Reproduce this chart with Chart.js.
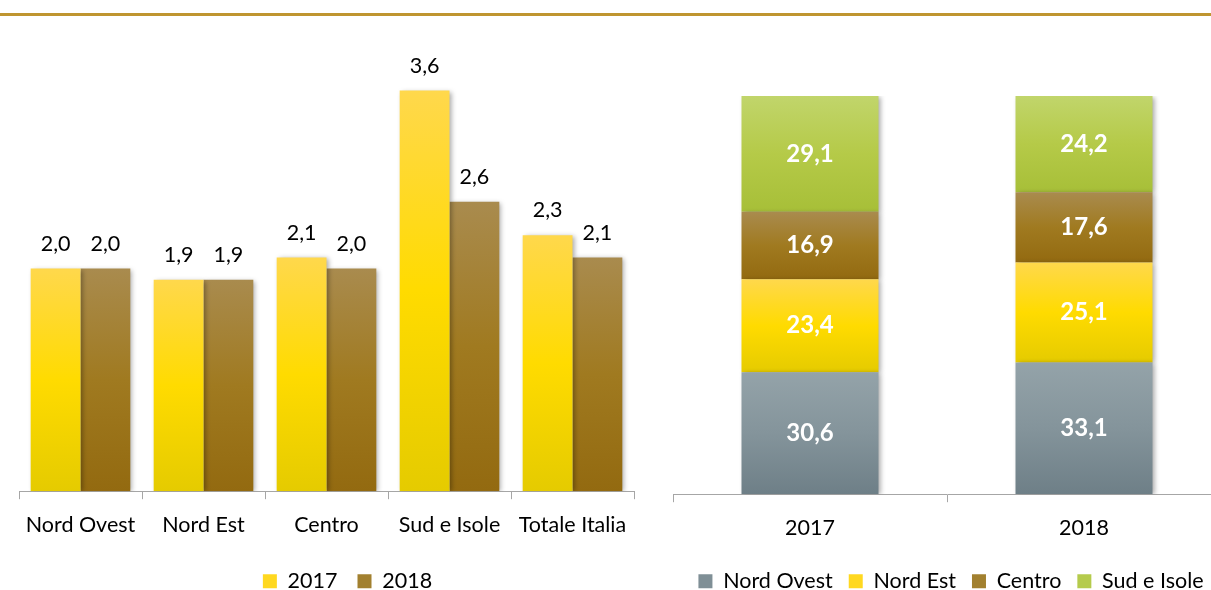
<!DOCTYPE html>
<html>
<head>
<meta charset="utf-8">
<script src="https://cdn.jsdelivr.net/npm/chart.js@4/dist/chart.umd.min.js"></script>
<style>
  html, body { margin: 0; padding: 0; background: #fff; overflow: hidden; }
  body { width: 1211px; height: 590px; position: relative; }
  #topLine { position: absolute; left: 0; top: 13px; width: 1211px; height: 3px; background: #bf9530; }
  #leftBox { position: absolute; left: 0; top: 0; width: 650px; height: 590px; }
  #rightBox { position: absolute; left: 660px; top: 0; width: 620px; height: 590px; }
</style>
</head>
<body>
<div id="topLine"></div>
<div id="leftBox"><canvas id="regionChart"></canvas></div>
<div id="rightBox"><canvas id="shareChart"></canvas></div>

<script>
const regions = ["Nord Ovest", "Nord Est", "Centro", "Sud e Isole", "Totale Italia"];
const values2017 = [2.0, 1.9, 2.1, 3.6, 2.3];
const values2018 = [2.0, 1.9, 2.0, 2.6, 2.1];

const years = ["2017", "2018"];
const shareNordOvest = [30.6, 33.1];
const shareNordEst = [23.4, 25.1];
const shareCentro = [16.9, 17.6];
const shareSud = [29.1, 24.2];

// gradient stops: top, middle, bottom
const yellow = ["#ffd84c", "#ffdb00", "#e5cb00"];
const brown = ["#a98b4e", "#a07a20", "#936a10"];
const grey = ["#94a3a9", "#84949b", "#6e7f87"];
const green = ["#c1d56b", "#b5ca48", "#a7bf38"];

const FONT = "Lato";
const TEXT_SIZE = 21.5;

function fmt(v) {
  return v.toFixed(1).replace(".", ",");
}

// vertical gradient over a single bar (or stack segment)
function barFill(stops, stacked) {
  return function (c) {
    const chart = c.chart;
    if (!chart.chartArea || c.type !== "data") return stops[1];
    const y = chart.scales.y;
    let low = 0;
    if (stacked) {
      for (let i = 0; i < c.datasetIndex; i++) low += chart.data.datasets[i].data[c.dataIndex];
    }
    const high = low + c.raw;
    const top = y.getPixelForValue(high);
    const bottom = y.getPixelForValue(low);
    const g = chart.ctx.createLinearGradient(0, top, 0, bottom);
    g.addColorStop(0, stops[0]);
    g.addColorStop(0.5, stops[1]);
    g.addColorStop(1, stops[2]);
    return g;
  };
}

function solidLegend(chart) {
  return chart.data.datasets.map((ds, i) => ({
    text: ds.label,
    fillStyle: ds.legendColor,
    strokeStyle: ds.legendColor,
    lineWidth: 0,
    hidden: false,
    datasetIndex: i
  }));
}

// nudge the legend sideways
const legendShift = {
  id: "legendShift",
  afterLayout(chart, args, opts) {
    const lg = chart.legend;
    if (!lg || !opts.dx) return;
    lg.left += opts.dx;
    lg.right += opts.dx;
  }
};

// soft drop shadow under the bars, then the value labels
const barDecor = {
  id: "barDecor",
  beforeDatasetsDraw(chart) {
    const ctx = chart.ctx;
    ctx.save();
    ctx.shadowColor = "rgba(0,0,0,0.35)";
    ctx.shadowBlur = 5;
    ctx.shadowOffsetX = 2;
    ctx.shadowOffsetY = 1;
  },
  afterDatasetsDraw(chart, args, opts) {
    const ctx = chart.ctx;
    ctx.restore();
    ctx.save();
    ctx.textAlign = "center";
    chart.data.datasets.forEach((ds, di) => {
      chart.getDatasetMeta(di).data.forEach((bar, i) => {
        const v = ds.data[i];
        if (opts.inside) {
          ctx.font = "bold 24px " + FONT;
          ctx.fillStyle = "#ffffff";
          ctx.textBaseline = "middle";
          ctx.fillText(fmt(v), bar.x, (bar.y + bar.base) / 2);
        } else {
          ctx.font = TEXT_SIZE + "px " + FONT;
          ctx.fillStyle = "#000000";
          ctx.textBaseline = "bottom";
          ctx.fillText(fmt(v), bar.x, bar.y - 14);
        }
      });
    });
    ctx.restore();
  }
};

function axisX(lineHeight, pad) {
  return {
    grid: { display: true, drawOnChartArea: false, offset: true, tickLength: 8, color: "#a6a6a6" },
    border: { display: true, color: "#a6a6a6" },
    ticks: { color: "#000", font: { family: FONT, size: TEXT_SIZE, lineHeight: lineHeight }, padding: pad, maxRotation: 0 }
  };
}

function legendOpts(gap) {
  return {
    position: "bottom",
    labels: {
      generateLabels: solidLegend,
      boxWidth: 14, boxHeight: 14, padding: gap,
      color: "#000", font: { family: FONT, size: TEXT_SIZE }
    }
  };
}

new Chart(document.getElementById("regionChart"), {
  type: "bar",
  data: {
    labels: regions,
    datasets: [
      { label: "2017", data: values2017, backgroundColor: barFill(yellow, false), legendColor: "#ffd820" },
      { label: "2018", data: values2018, backgroundColor: barFill(brown, false), legendColor: "#a2802f" }
    ]
  },
  options: {
    responsive: true,
    maintainAspectRatio: false,
    animation: false,
    layout: { padding: { left: 19, right: 16, top: 46, bottom: -12 } },
    datasets: { bar: { categoryPercentage: 0.81, barPercentage: 1.0 } },
    scales: {
      x: axisX(1.736, 7),
      y: { display: false, min: 0, max: 4 }
    },
    plugins: {
      legend: legendOpts(20),
      tooltip: { enabled: false },
      barDecor: { inside: false },
      legendShift: { dx: 21 }
    }
  },
  plugins: [barDecor, legendShift]
});

new Chart(document.getElementById("shareChart"), {
  type: "bar",
  data: {
    labels: years,
    datasets: [
      { label: "Nord Ovest", data: shareNordOvest, backgroundColor: barFill(grey, true), legendColor: "#7f8f96" },
      { label: "Nord Est", data: shareNordEst, backgroundColor: barFill(yellow, true), legendColor: "#ffd820" },
      { label: "Centro", data: shareCentro, backgroundColor: barFill(brown, true), legendColor: "#a2802f" },
      { label: "Sud e Isole", data: shareSud, backgroundColor: barFill(green, true), legendColor: "#b5cb4c" }
    ]
  },
  options: {
    responsive: true,
    maintainAspectRatio: false,
    animation: false,
    layout: { padding: { left: 13, right: 59, top: 96, bottom: -12 } },
    datasets: { bar: { categoryPercentage: 1.0, barPercentage: 0.5 } },
    scales: {
      x: Object.assign(axisX(1.875, 6), { stacked: true }),
      y: { display: false, stacked: true, min: 0, max: 100 }
    },
    plugins: {
      legend: legendOpts(16),
      tooltip: { enabled: false },
      barDecor: { inside: true },
      legendShift: { dx: 4 }
    }
  },
  plugins: [barDecor, legendShift]
});
</script>
</body>
</html>
